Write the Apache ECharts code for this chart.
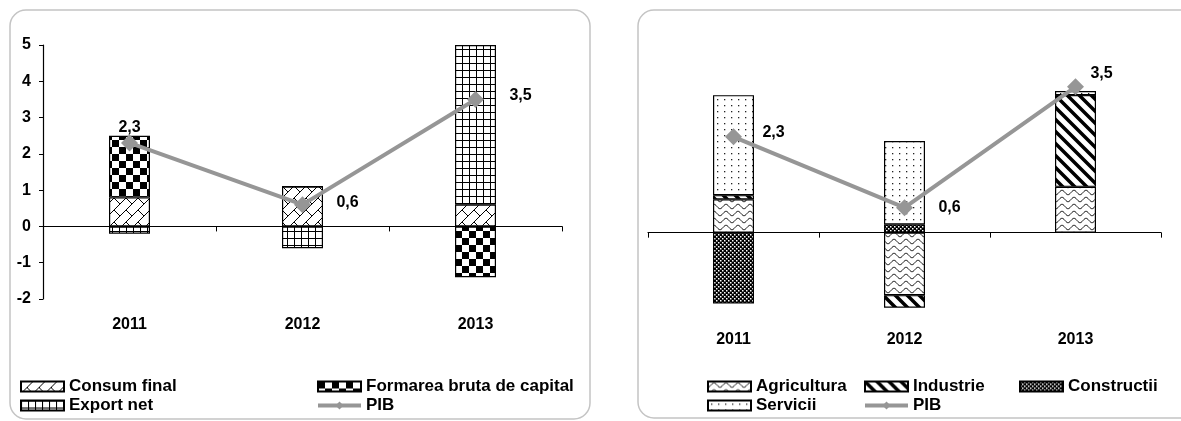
<!DOCTYPE html>
<html>
<head>
<meta charset="utf-8">
<script src="https://cdn.jsdelivr.net/npm/echarts@6/dist/echarts.min.js"></script>
<style>
  html, body { margin: 0; padding: 0; background: #fff; }
  #chart { width: 1181px; height: 421px; }
</style>
</head>
<body>
<div id="chart"></div>
<script>
// data
var years = ['2011', '2012', '2013'];
var leftTicks = [-2, -1, 0, 1, 2, 3, 4, 5];

var consumFinal = [0.8, 1.1, 0.6];
var formareCapital = [1.7, 0, -1.4];
var exportNet = [-0.2, -0.6, 4.4];
var pib = [2.3, 0.6, 3.5];

var agricultura = [0.8, -1.5, 1.1];
var industrie = [0.1, -0.3, 2.2];
var constructii = [-1.7, 0.2, 0];
var servicii = [2.4, 2.0, 0.1];

var FONT = '"Liberation Sans", Arial, sans-serif';

// small canvas tiles used as fill patterns
function tile(w, h, draw) {
    var c = document.createElement('canvas');
    c.width = w;
    c.height = h;
    var ctx = c.getContext('2d');
    ctx.fillStyle = '#fff';
    ctx.fillRect(0, 0, w, h);
    ctx.fillStyle = '#000';
    ctx.strokeStyle = '#000';
    draw(ctx, w, h);
    return { image: c, repeat: 'repeat' };
}

var patBrick = tile(12, 12, function (ctx) {
    ctx.lineWidth = 1;
    ctx.beginPath();
    ctx.moveTo(0, 12); ctx.lineTo(12, 0);
    ctx.moveTo(6, 6); ctx.lineTo(12, 12);
    ctx.stroke();
});
var patChecker = tile(14, 14, function (ctx) {
    ctx.fillRect(0, 0, 7, 7);
    ctx.fillRect(7, 7, 7, 7);
});
var patGrid = tile(7, 7, function (ctx) {
    ctx.fillRect(0, 0, 7, 1);
    ctx.fillRect(0, 0, 1, 7);
});
var patWave = tile(12, 7, function (ctx) {
    ctx.lineWidth = 1;
    ctx.beginPath();
    for (var x = 0; x <= 12; x += 0.5) {
        var y = 3.5 + 2.2 * Math.cos(Math.PI * x / 6);
        if (x === 0) ctx.moveTo(x, y); else ctx.lineTo(x, y);
    }
    ctx.stroke();
});
var patStripe = tile(12, 12, function (ctx) {
    ctx.lineWidth = 3.5;
    ctx.beginPath();
    ctx.moveTo(-2, -2); ctx.lineTo(14, 14);
    ctx.moveTo(-8, 4); ctx.lineTo(8, 20);
    ctx.moveTo(4, -8); ctx.lineTo(20, 8);
    ctx.stroke();
});
var patSmallCheck = tile(4, 4, function (ctx) {
    ctx.fillRect(0, 0, 4, 4);
    ctx.fillStyle = '#fff';
    ctx.fillRect(0, 0, 1.5, 1.5);
    ctx.fillRect(2, 2, 1.5, 1.5);
});
var patDots = tile(7, 6, function (ctx) {
    ctx.fillStyle = '#222';
    ctx.fillRect(3, 3, 1.3, 1.3);
});

function barSeries(name, data, pattern, stack, xi, yi) {
    return {
        name: name,
        type: 'bar',
        stack: stack,
        xAxisIndex: xi,
        yAxisIndex: yi,
        barWidth: 41,
        data: data,
        itemStyle: { color: pattern, borderColor: '#000', borderWidth: 1.2 },
        emphasis: { disabled: true }
    };
}

function pibSeries(xi, yi, offsets) {
    return {
        name: 'PIB',
        type: 'line',
        xAxisIndex: xi,
        yAxisIndex: yi,
        z: 5,
        symbol: 'diamond',
        symbolSize: 17,
        lineStyle: { color: '#969696', width: 4 },
        itemStyle: { color: '#969696' },
        data: pib.map(function (v, i) {
            return { value: v, label: { offset: offsets[i] } };
        }),
        label: {
            show: true,
            position: 'inside',
            color: '#000',
            fontFamily: FONT,
            fontWeight: 'bold',
            fontSize: 16,
            formatter: function (p) { return p.value.toFixed(1).replace('.', ','); }
        },
        emphasis: { disabled: true }
    };
}

function catAxes(grid, margin) {
    return [{
        type: 'category',
        gridIndex: grid,
        data: years,
        axisLine: { onZero: true, lineStyle: { color: '#000', width: 1.2 } },
        axisTick: { show: true, length: 5, lineStyle: { color: '#000' } },
        axisLabel: { show: false }
    }, {
        type: 'category',
        gridIndex: grid,
        data: years,
        position: 'bottom',
        axisLine: { show: false, onZero: false },
        axisTick: { show: false },
        axisLabel: {
            margin: margin,
            color: '#000',
            fontFamily: FONT,
            fontWeight: 'bold',
            fontSize: 16
        }
    }];
}

function legend(left, names) {
    return {
        orient: 'vertical',
        left: left,
        top: 373,
        data: names.map(function (n) {
            return n === 'PIB' ? { name: n } : { name: n, icon: 'rect' };
        }),
        itemWidth: 43,
        itemHeight: 10,
        itemGap: 2,
        selectedMode: false,
        lineStyle: { width: 4, color: '#969696' },
        textStyle: { color: '#000', fontFamily: FONT, fontWeight: 'bold', fontSize: 17 }
    };
}

var chart = echarts.init(document.getElementById('chart'), null, { renderer: 'canvas' });

var option = {
    animation: false,
    backgroundColor: '#fff',
    graphic: [
        { type: 'rect', shape: { x: 10, y: 10, width: 580, height: 409, r: 16 }, style: { fill: 'none', stroke: '#c4c4c4', lineWidth: 1.5 }, z: -1 },
        { type: 'rect', shape: { x: 638, y: 10, width: 600, height: 408, r: 16 }, style: { fill: 'none', stroke: '#c4c4c4', lineWidth: 1.5 }, z: -1 }
    ],
    legend: [
        legend(15, ['Consum final', 'Export net']),
        legend(311, ['Formarea bruta de capital', 'PIB']),
        legend(702, ['Agricultura', 'Servicii']),
        legend(858, ['Industrie', 'PIB']),
        legend(1014, ['Constructii'])
    ],
    grid: [
        { left: 43, top: 45, width: 519, height: 254 },
        { left: 648, top: 66, width: 513, height: 250 }
    ],
    xAxis: catAxes(0, 18).concat(catAxes(1, 16)),
    yAxis: [{
        type: 'value',
        gridIndex: 0,
        min: leftTicks[0],
        max: leftTicks[leftTicks.length - 1],
        interval: 1,
        axisLine: { show: true, lineStyle: { color: '#000', width: 1.2 } },
        axisTick: { show: true, length: 4, lineStyle: { color: '#000' } },
        splitLine: { show: false },
        axisLabel: { color: '#000', fontFamily: FONT, fontWeight: 'bold', fontSize: 16, margin: 12 }
    }, {
        type: 'value',
        gridIndex: 1,
        min: -2,
        max: 4,
        interval: 1,
        show: false,
        splitLine: { show: false }
    }],
    series: [
        barSeries('Consum final', consumFinal, patBrick, 'left', 0, 0),
        barSeries('Formarea bruta de capital', formareCapital, patChecker, 'left', 0, 0),
        barSeries('Export net', exportNet, patGrid, 'left', 0, 0),
        barSeries('Agricultura', agricultura, patWave, 'right', 2, 1),
        barSeries('Industrie', industrie, patStripe, 'right', 2, 1),
        barSeries('Constructii', constructii, patSmallCheck, 'right', 2, 1),
        barSeries('Servicii', servicii, patDots, 'right', 2, 1),
        pibSeries(0, 0, [[0, -15], [45, -2], [45, -4]]),
        pibSeries(2, 1, [[40, -4], [45, 0], [26, -13]])
    ]
};

chart.setOption(option);
</script>
</body>
</html>
